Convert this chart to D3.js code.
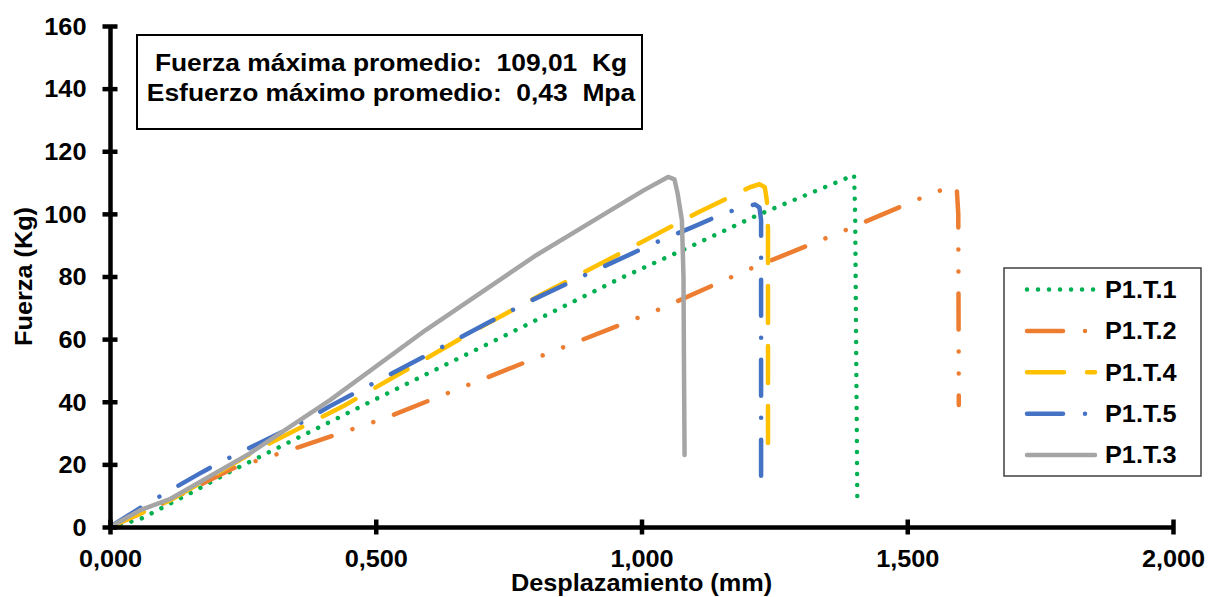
<!DOCTYPE html>
<html>
<head>
<meta charset="utf-8">
<script src="https://cdn.jsdelivr.net/npm/d3@7"></script>
<style>
  body { margin: 0; background: #fff; }
  text { font-family: "Liberation Sans", Arial, sans-serif; font-weight: bold; fill: #000; }
</style>
</head>
<body>
<svg id="graph" width="1209" height="597"></svg>
<script>
// Data (displacement in mm, force in Kg)
const seriesNames = ["P1.T.1", "P1.T.2", "P1.T.4", "P1.T.5", "P1.T.3"];

const t1Disp  = [0, 0.057, 0.151, 0.232, 0.484, 0.77, 0.96, 1.09, 1.217, 1.4, 1.402, 1.406];
const t1Force = [0, 2.5, 10.8, 18.2, 39.5, 63.4, 79.4, 89.4, 99.5, 112.4, 100, 9.5];

const t2Disp  = [0, 0.1, 0.232, 0.339, 0.518, 0.75, 1.029, 1.198, 1.37, 1.539, 1.583, 1.593, 1.596, 1.597];
const t2Force = [0, 7.5, 18.8, 24.6, 34.8, 50.5, 69.2, 82, 93.8, 106, 108.8, 108.5, 100, 39];

const t4Disp  = [0, 0.114, 0.283, 0.442, 0.694, 0.809, 0.95, 1.108, 1.204, 1.222, 1.232, 1.236, 1.238, 1.238];
const t4Force = [0, 8.6, 25.2, 38.9, 63.5, 74, 86.5, 100.6, 108.5, 109.5, 108.5, 104, 95, 24];

const t5Disp  = [0, 0.057, 0.114, 0.17, 0.203, 0.358, 0.414, 0.72, 0.781, 0.907, 1.029, 1.095, 1.153, 1.189, 1.214, 1.222, 1.225, 1.225];
const t5Force = [0, 6.1, 11.8, 17.2, 20.3, 33.2, 38.6, 66, 71.4, 81.5, 91, 95.7, 100, 102, 103, 102, 98, 11];

const t3Disp  = [0, 0.057, 0.114, 0.264, 0.414, 0.594, 0.802, 1.004, 1.05, 1.062, 1.068, 1.076, 1.079, 1.08, 1.081];
const t3Force = [0, 5.4, 9, 23.6, 40.5, 62.9, 86.8, 107.5, 111.8, 111, 106.5, 98, 80, 50, 23];

const xTicks = [0, 0.5, 1, 1.5, 2];
const xTickLabels = ["0,000", "0,500", "1,000", "1,500", "2,000"];
const yTicks = [0, 20, 40, 60, 80, 100, 120, 140, 160];

const infoLines = ["Fuerza máxima promedio:\u00A0 109,01\u00A0 Kg", "Esfuerzo máximo promedio:\u00A0 0,43\u00A0 Mpa"];

const allDisp = [t1Disp, t2Disp, t4Disp, t5Disp, t3Disp];
const allForce = [t1Force, t2Force, t4Force, t5Force, t3Force];

// styles, in the same order as seriesNames
const colors = ["#00B050", "#ED7D31", "#FFC000", "#4472C4", "#A5A5A5"];
const dashes = ["0.01 11", "36 22 0.01 22 0.01 22", "37 23", "36 22 0.01 22", null];

const stretch = "scale(1.1,1)";

var x = d3.scaleLinear().domain([0, 2]).range([110, 1173]);
var y = d3.scaleLinear().domain([0, 160]).range([527, 26]);

let svg = d3.select("#graph");

// Series lines
var line = d3.line()
  .x(d => x(d[0]))
  .y(d => y(d[1]));

seriesNames.forEach((name, i) => {
  let pts = allDisp[i].map((v, j) => [v, allForce[i][j]]);
  svg.append("path")
    .datum(pts)
    .attr("fill", "none")
    .attr("stroke", colors[i])
    .attr("stroke-width", 4.5)
    .attr("stroke-linecap", "round")
    .attr("stroke-linejoin", "round")
    .attr("stroke-dasharray", dashes[i])
    .attr("d", line);
});

// Axes
let xAxis = d3.axisBottom(x).tickValues(xTicks).tickFormat((d, i) => xTickLabels[i]).tickSize(7.5).tickSizeOuter(0);
let yAxis = d3.axisLeft(y).tickValues(yTicks).tickSize(7.5).tickSizeOuter(0);

let gx = svg.append("g").attr("transform", `translate(0, ${y(0)})`).call(xAxis);
let gy = svg.append("g").attr("transform", `translate(${x(0)}, 0)`).call(yAxis);

[gx, gy].forEach(g => {
  g.select(".domain").attr("stroke", "#000").attr("stroke-width", 4.5);
  g.selectAll(".tick line").attr("stroke", "#000").attr("stroke-width", 4.5);
  g.selectAll(".tick text")
    .style("font-size", "23px")
    .style("font-family", "'Liberation Sans', Arial, sans-serif")
    .style("font-weight", "bold")
    .attr("fill", "#000");
});
gx.selectAll(".tick line").attr("y1", -7.5);
gy.selectAll(".tick line").attr("x1", 7.5);
gx.selectAll(".tick text").attr("y", 0).attr("dy", 0)
  .attr("transform", "translate(0,39.5) " + stretch);
gy.selectAll(".tick text").attr("x", 0).attr("dy", "0.36em")
  .attr("transform", "translate(-23.5,0) " + stretch);

// Axis titles
svg.append("text")
  .attr("transform", `translate(${(x(0) + x(2)) / 2}, 590.5) ` + stretch)
  .attr("text-anchor", "middle")
  .style("font-size", "23px")
  .text("Desplazamiento (mm)");

svg.append("text")
  .attr("transform", `translate(31.5, ${y(80)}) rotate(-90) ` + stretch)
  .attr("text-anchor", "middle")
  .style("font-size", "23px")
  .text("Fuerza (Kg)");

// Info box
svg.append("rect")
  .attr("x", 137).attr("y", 35).attr("width", 505).attr("height", 94)
  .attr("fill", "#fff").attr("stroke", "#000").attr("stroke-width", 2);

infoLines.forEach((t, i) => {
  svg.append("text")
    .attr("transform", `translate(391, ${71 + i * 30}) ` + stretch)
    .attr("text-anchor", "middle")
    .style("font-size", "24px")
    .text(t);
});

// Legend
let legend = svg.append("g");
legend.append("rect")
  .attr("x", 1004).attr("y", 268).attr("width", 197).attr("height", 208)
  .attr("fill", "#fff").attr("stroke", "#404040").attr("stroke-width", 1.5);

seriesNames.forEach((name, i) => {
  let ly = 289.5 + i * 41.4;
  legend.append("line")
    .attr("x1", 1027).attr("x2", 1095)
    .attr("y1", ly).attr("y2", ly)
    .attr("stroke", colors[i])
    .attr("stroke-width", 4.5)
    .attr("stroke-linecap", "round")
    .attr("stroke-dasharray", dashes[i]);
  legend.append("text")
    .attr("transform", `translate(1105, ${ly}) ` + stretch)
    .attr("dy", "0.36em")
    .style("font-size", "23px")
    .text(name);
});
</script>
</body>
</html>
